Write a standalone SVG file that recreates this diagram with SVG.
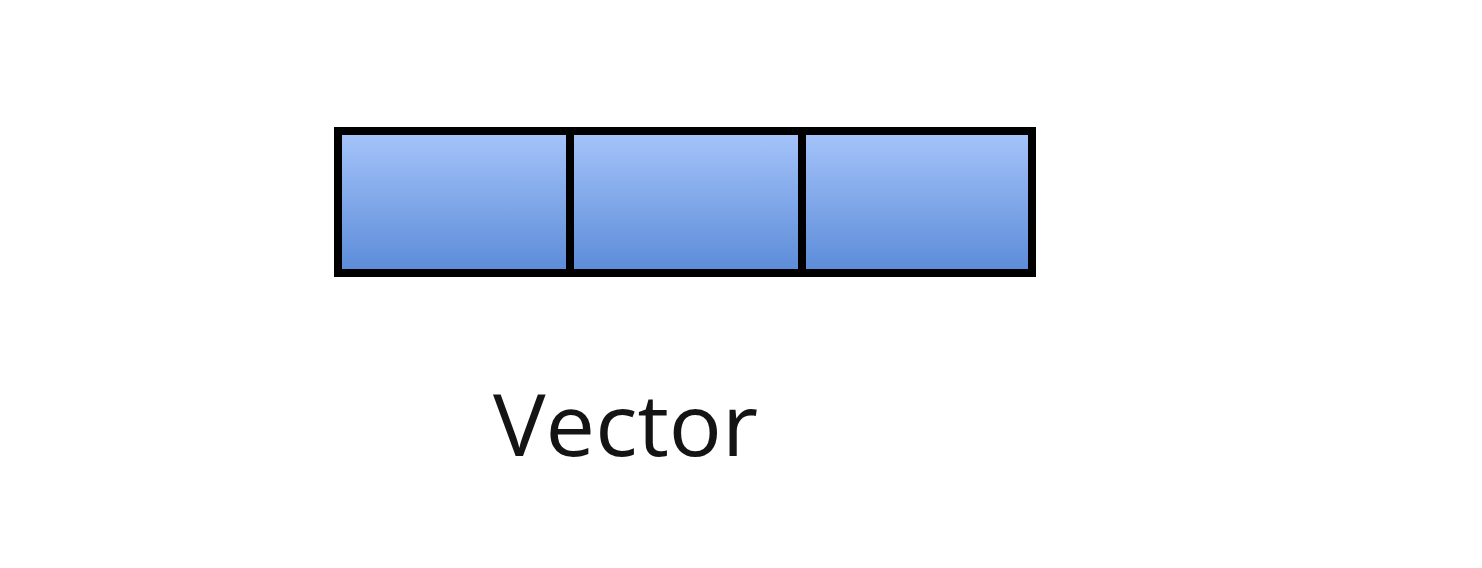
<svg xmlns="http://www.w3.org/2000/svg" width="1482" height="568" viewBox="0 0 1482 568">
<defs>
<linearGradient id="g" x1="0" y1="0" x2="0" y2="1">
<stop offset="0" stop-color="#a6c4fa"/>
<stop offset="1" stop-color="#5b8bd8"/>
</linearGradient>
<style>
.cell{fill:url(#g);stroke:#000;stroke-width:8}
.lbl{font-family:"Open Sans","Liberation Sans",Arial,sans-serif;font-size:86px;fill:#141414}
</style>
</defs>
<rect width="1482" height="568" fill="#fff"/>
<g id="vector">
<rect class="cell" x="338" y="131" width="232" height="142"/>
<rect class="cell" x="570" y="131" width="232" height="142"/>
<rect class="cell" x="802" y="131" width="230" height="142"/>
</g>
<g id="label">
<text class="lbl" x="493" y="456" textLength="265" lengthAdjust="spacingAndGlyphs">Vector</text>
</g>
</svg>
